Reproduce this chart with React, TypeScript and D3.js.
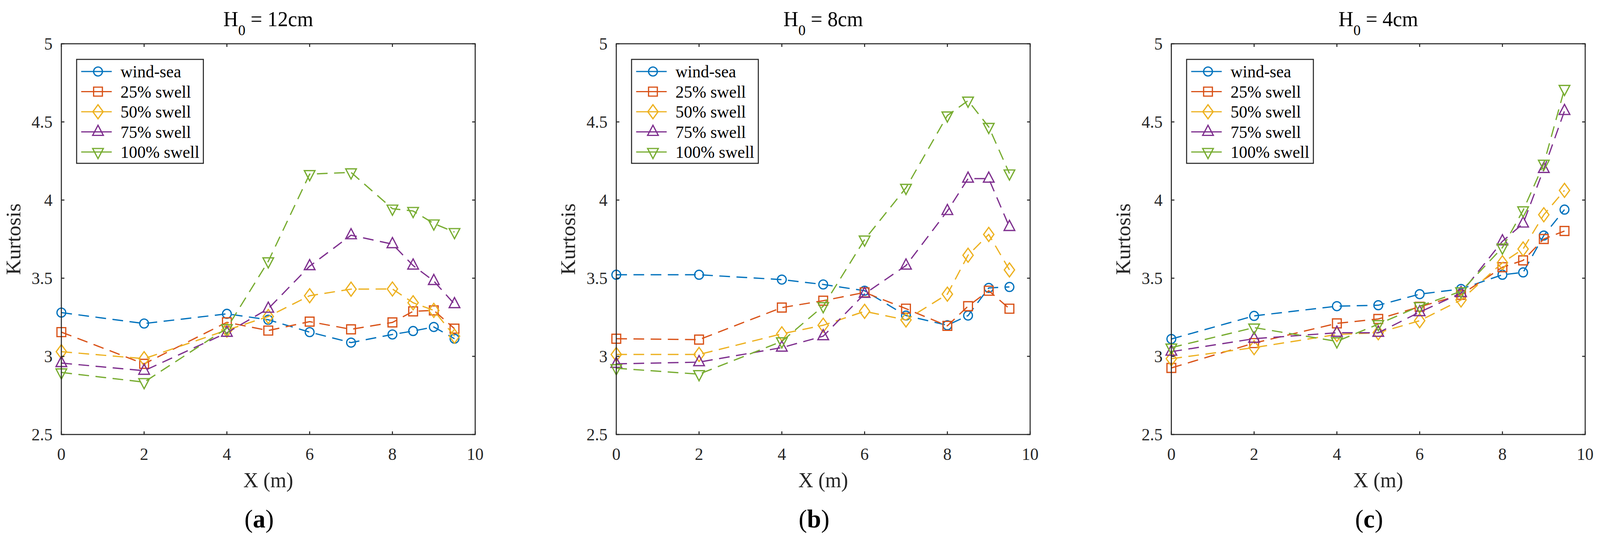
import * as d3 from "d3";

// x positions along the flume (m), shared by every series
const xPos = [0, 2, 4, 5, 6, 7, 8, 8.5, 9, 9.5];

const seriesNames = ["wind-sea", "25% swell", "50% swell", "75% swell", "100% swell"];
const seriesColors = ["#0072BD", "#D95319", "#EDB120", "#7E2F8E", "#77AC30"];
const seriesMarkers = ["circle", "square", "diamond", "triangleUp", "triangleDown"];

const xTicks = [0, 2, 4, 6, 8, 10];
const yTicks = [2.5, 3, 3.5, 4, 4.5, 5];

// H0 = 12cm
const windA = [3.28, 3.21, 3.272, 3.234, 3.155, 3.088, 3.14, 3.162, 3.188, 3.113];
const s25A = [3.155, 2.952, 3.218, 3.165, 3.222, 3.173, 3.217, 3.288, 3.294, 3.177];
const s50A = [3.03, 2.985, 3.168, 3.255, 3.388, 3.43, 3.431, 3.343, 3.294, 3.129];
const s75A = [2.957, 2.908, 3.151, 3.305, 3.577, 3.775, 3.718, 3.581, 3.482, 3.334];
const s100A = [2.897, 2.835, 3.18, 3.608, 4.166, 4.177, 3.945, 3.93, 3.85, 3.795];

// H0 = 8cm
const windB = [3.522, 3.522, 3.491, 3.46, 3.42, 3.261, 3.199, 3.261, 3.438, 3.444];
const s25B = [3.113, 3.107, 3.312, 3.356, 3.409, 3.305, 3.195, 3.321, 3.42, 3.305];
const s50B = [3.012, 3.012, 3.144, 3.199, 3.288, 3.233, 3.398, 3.647, 3.78, 3.553];
const s75B = [2.952, 2.963, 3.056, 3.129, 3.4, 3.581, 3.93, 4.137, 4.137, 3.828];
const s100B = [2.924, 2.886, 3.096, 3.321, 3.747, 4.078, 4.541, 4.636, 4.468, 4.17];

// H0 = 4cm
const windC = [3.111, 3.259, 3.321, 3.327, 3.398, 3.431, 3.522, 3.537, 3.773, 3.939];
const s25C = [2.926, 3.085, 3.211, 3.239, 3.317, 3.394, 3.57, 3.614, 3.751, 3.802];
const s50C = [2.985, 3.056, 3.14, 3.151, 3.228, 3.361, 3.599, 3.687, 3.906, 4.062];
const s75C = [3.03, 3.113, 3.151, 3.151, 3.283, 3.405, 3.736, 3.85, 4.199, 4.57];
const s100C = [3.056, 3.184, 3.096, 3.206, 3.321, 3.416, 3.696, 3.934, 4.232, 4.711];

const panels = [
  { h0: "12cm", tag: "a", series: [windA, s25A, s50A, s75A, s100A] },
  { h0: "8cm", tag: "b", series: [windB, s25B, s50B, s75B, s100B] },
  { h0: "4cm", tag: "c", series: [windC, s25C, s50C, s75C, s100C] },
];

const W = 4191;
const H = 1382;
const plotW = 1084;
const plotTop = 112;
const plotBottom = 1112;
const panelLefts = [160.7, 1614.3, 3068.2];
const axisColor = "#262626";
const font = "Liberation Serif, Times New Roman, serif";

function markerPath(kind: string) {
  switch (kind) {
    case "circle":
      return d3.symbol(d3.symbolCircle, Math.PI * 11.5 * 11.5)() || "";
    case "square":
      return "M-11.5,-11.5H11.5V11.5H-11.5Z";
    case "diamond":
      return "M0,-18L13.5,0L0,18L-13.5,0Z";
    case "triangleUp":
      return "M0,-17L14,9L-14,9Z";
    default:
      return "M0,17L14,-9L-14,-9Z";
  }
}

function Panel({ left, h0, tag, series }: { left: number; h0: string; tag: string; series: number[][] }) {
  const x = d3.scaleLinear().domain([0, 10]).range([left, left + plotW]);
  const y = d3.scaleLinear().domain([2.5, 5]).range([plotBottom, plotTop]);
  const line = d3
    .line<number>()
    .x((_, i) => x(xPos[i]))
    .y((d) => y(d));
  const cx = left + plotW / 2;
  const legL = left + 40;
  const legT = plotTop + 40;
  const tick = 8;

  return (
    <g>
      {/* title */}
      <text x={cx} y={67} textAnchor="middle" fontSize={54} fill="#000">
        <tspan>H</tspan>
        <tspan fontSize={38} dy={23}>0</tspan>
        <tspan dy={-23}>{` = ${h0}`}</tspan>
      </text>

      {/* series */}
      {series.map((vals, si) => (
        <g key={si}>
          <path
            d={line(vals) || ""}
            fill="none"
            stroke={seriesColors[si]}
            strokeWidth={3.2}
            strokeDasharray="28 17"
          />
          {vals.map((v, i) => (
            <path
              key={i}
              d={markerPath(seriesMarkers[si])}
              transform={`translate(${x(xPos[i])},${y(v)})`}
              fill="none"
              stroke={seriesColors[si]}
              strokeWidth={3.2}
            />
          ))}
        </g>
      ))}

      {/* axes box and ticks */}
      <rect
        x={left}
        y={plotTop}
        width={plotW}
        height={plotBottom - plotTop}
        fill="none"
        stroke={axisColor}
        strokeWidth={2.7}
      />
      {xTicks.map((t) => (
        <g key={"x" + t}>
          <line x1={x(t)} x2={x(t)} y1={plotBottom} y2={plotBottom - tick} stroke={axisColor} strokeWidth={2.7} />
          <line x1={x(t)} x2={x(t)} y1={plotTop} y2={plotTop + tick} stroke={axisColor} strokeWidth={2.7} />
          <text x={x(t)} y={plotBottom + 65} textAnchor="middle" fontSize={44} fill={axisColor}>
            {t}
          </text>
        </g>
      ))}
      {yTicks.map((t) => (
        <g key={"y" + t}>
          <line x1={left} x2={left + tick} y1={y(t)} y2={y(t)} stroke={axisColor} strokeWidth={2.7} />
          <line x1={left + plotW} x2={left + plotW - tick} y1={y(t)} y2={y(t)} stroke={axisColor} strokeWidth={2.7} />
          <text x={left - 23} y={y(t)} dy="0.35em" textAnchor="end" fontSize={44} fill={axisColor}>
            {t}
          </text>
        </g>
      ))}

      {/* axis labels */}
      <text x={cx} y={1247} textAnchor="middle" fontSize={54} fill={axisColor}>
        X (m)
      </text>
      <text
        transform={`translate(${left - 108},${(plotTop + plotBottom) / 2}) rotate(-90)`}
        textAnchor="middle"
        fontSize={54}
        fill={axisColor}
      >
        Kurtosis
      </text>

      {/* legend */}
      <rect x={legL} y={legT} width={332} height={266} fill="#fff" stroke={axisColor} strokeWidth={2.7} />
      {seriesNames.map((name, si) => {
        const ry = legT + 31 + si * 51.5;
        return (
          <g key={name}>
            <line x1={legL + 12} x2={legL + 92} y1={ry} y2={ry} stroke={seriesColors[si]} strokeWidth={3.2} />
            <path
              d={markerPath(seriesMarkers[si])}
              transform={`translate(${legL + 56},${ry})`}
              fill="none"
              stroke={seriesColors[si]}
              strokeWidth={3.2}
            />
            <text x={legL + 115} y={ry} dy="0.35em" fontSize={44} fill="#000">
              {name}
            </text>
          </g>
        );
      })}

      {/* subfigure tag */}
      <text x={cx - 24} y={1350} textAnchor="middle" fontSize={66} fill="#000">
        (<tspan fontWeight="bold">{tag}</tspan>)
      </text>
    </g>
  );
}

export default function App() {
  // stretch the fixed 4191x1382 drawing over whatever viewport the page gets
  return (
    <svg
      viewBox={`0 0 ${W} ${H}`}
      preserveAspectRatio="none"
      fontFamily={font}
      style={{ position: "absolute", left: 0, top: 0, width: "100vw", height: "100vh", background: "#fff" }}
    >
      <rect width={W} height={H} fill="#fff" />
      {panels.map((p, i) => (
        <Panel key={p.tag} left={panelLefts[i]} h0={p.h0} tag={p.tag} series={p.series} />
      ))}
    </svg>
  );
}
